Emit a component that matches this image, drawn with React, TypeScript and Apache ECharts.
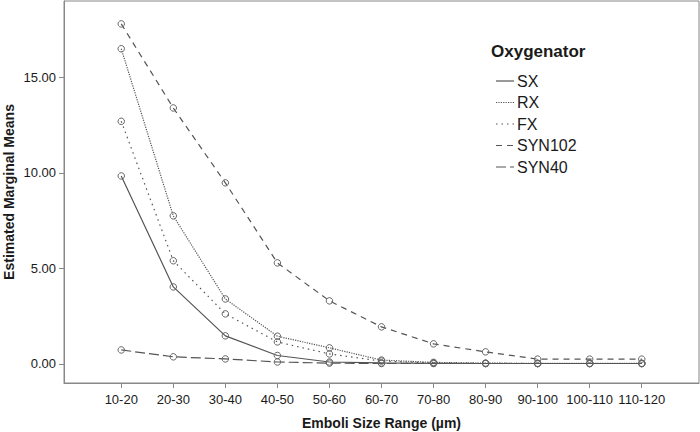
import React, { useEffect, useRef } from "react";
import * as echarts from "echarts";

const categories = ["10-20", "20-30", "30-40", "40-50", "50-60", "60-70", "70-80", "80-90", "90-100", "100-110", "110-120"];
const seriesNames = ["SX", "RX", "FX", "SYN102", "SYN40"];
const sx = [9.84, 4.03, 1.47, 0.44, 0.1, 0.05, 0.03, 0.02, 0.02, 0.02, 0.02];
const rx = [16.5, 7.75, 3.4, 1.45, 0.84, 0.2, 0.08, 0.04, 0.03, 0.03, 0.03];
const fx = [12.7, 5.4, 2.62, 1.15, 0.52, 0.15, 0.05, 0.03, 0.02, 0.02, 0.02];
const syn102 = [17.8, 13.4, 9.48, 5.29, 3.3, 1.94, 1.05, 0.63, 0.25, 0.25, 0.25];
const syn40 = [0.73, 0.37, 0.26, 0.1, 0.04, 0.02, 0.02, 0.02, 0.02, 0.02, 0.02];
const yTicks = [0, 5, 10, 15];

const FONT = "'Liberation Sans', Arial, sans-serif";
const LINE = "#555";
const dashes: (string | number[])[] = ["solid", [1.2, 1.2], [1.5, 4], [6, 5], [10, 4]];

export default function App() {
  const ref = useRef<HTMLDivElement>(null);
  useEffect(() => {
    document.body.style.margin = "0";
    const chart = echarts.init(ref.current!, undefined, { renderer: "svg" });
    const all = [sx, rx, fx, syn102, syn40];
    const series = all.map((vals, i) => ({
      name: seriesNames[i],
      type: "line",
      data: vals.map((v, j) => [j, v]),
      symbol: "circle",
      symbolSize: 6.5,
      showSymbol: true,
      lineStyle: { color: LINE, width: 1.2, type: dashes[i] },
      itemStyle: { color: "rgba(0,0,0,0)", borderColor: "#666", borderWidth: 1 },
      z: 2 + i,
    }));
    const legendX = 496;
    const legendY0 = 81;
    const legendStep = 21.5;
    const graphic: any[] = [
      {
        type: "text",
        left: 491,
        top: 43,
        style: { text: "Oxygenator", font: `bold 17px ${FONT}`, fill: "#1a1a1a" },
      },
    ];
    seriesNames.forEach((n, i) => {
      const y = legendY0 + i * legendStep;
      graphic.push({
        type: "line",
        shape: { x1: legendX, y1: y, x2: legendX + 18, y2: y },
        style: {
          stroke: LINE,
          lineWidth: 1.2,
          lineDash: dashes[i] === "solid" ? null : (dashes[i] as number[]),
        },
      });
      graphic.push({
        type: "text",
        x: legendX + 21,
        y: y,
        style: { text: n, font: `16px ${FONT}`, fill: "#1a1a1a", verticalAlign: "middle" },
      });
    });
    chart.setOption({
      animation: false,
      backgroundColor: "#fff",
      grid: {
        left: 64,
        right: 1,
        top: 1,
        bottom: 49,
        containLabel: false,
        outerBoundsMode: "none",
        show: true,
        borderColor: "#888",
        borderWidth: 1,
      },
      xAxis: {
        type: "value",
        min: -1.1,
        max: 11.1,
        name: "Emboli Size Range (µm)",
        nameLocation: "middle",
        nameGap: 33,
        nameTextStyle: { fontFamily: FONT, fontWeight: "bold", fontSize: 14, color: "#1a1a1a" },
        axisLine: { show: true, onZero: false, lineStyle: { color: "#888" } },
        axisTick: { show: true, length: 5, customValues: categories.map((_, i) => i), lineStyle: { color: "#888" } },
        axisLabel: {
          customValues: categories.map((_, i) => i),
          formatter: (v: number) => categories[Math.round(v)] ?? "",
          fontFamily: FONT,
          fontSize: 13,
          color: "#1a1a1a",
          margin: 10,
        },
        splitLine: { show: false },
      },
      yAxis: {
        type: "value",
        min: -1,
        max: 19,
        name: "Estimated Marginal Means",
        nameLocation: "middle",
        nameGap: 48,
        nameMoveOverlap: false,
        nameTextStyle: { fontFamily: FONT, fontWeight: "bold", fontSize: 14, color: "#1a1a1a" },
        axisLine: { show: true, onZero: false, lineStyle: { color: "#888" } },
        axisTick: { show: true, length: 5, customValues: yTicks, lineStyle: { color: "#888" } },
        axisLabel: {
          customValues: yTicks,
          formatter: (v: number) => v.toFixed(2),
          fontFamily: FONT,
          fontSize: 13,
          color: "#1a1a1a",
          margin: 8,
        },
        splitLine: { show: false },
      },
      graphic,
      series,
    });
    return () => chart.dispose();
  }, []);
  return <div ref={ref} style={{ width: 700, height: 432 }} />;
}
